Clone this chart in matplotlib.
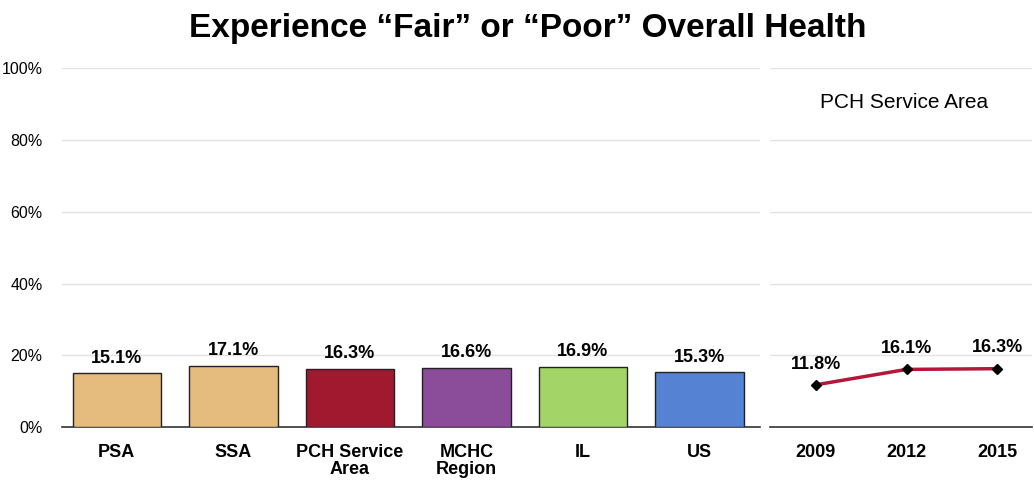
import matplotlib.pyplot as plt
from matplotlib.ticker import PercentFormatter

categories = ["PSA", "SSA", "PCH Service\nArea", "MCHC\nRegion", "IL", "US"]
values = [15.1, 17.1, 16.3, 16.6, 16.9, 15.3]
bar_colors = ["#E5BC7E", "#E5BC7E", "#A0192F", "#8B4C9A", "#A2D468", "#5582D3"]

years = ["2009", "2012", "2015"]
trend = [11.8, 16.1, 16.3]

narrow = ["Liberation Sans Narrow", "Liberation Sans", "DejaVu Sans"]
plt.rcParams['font.family'] = narrow

fig = plt.figure(figsize=(10.34, 4.8), dpi=100)
ax = fig.add_axes([0.060, 0.110, 0.675, 0.748])
ax2 = fig.add_axes([0.745, 0.110, 0.253, 0.748])

x = range(len(categories))
ax.bar(x, values, width=0.76, color=bar_colors, edgecolor="#222222", linewidth=1, zorder=3)
for i, v in zip(x, values):
    ax.text(i, v + 1.8, f"{v:.1f}%", ha='center', va='bottom', fontsize=13, fontweight='bold')
ax.set_xticks(list(x))
ax.set_xticklabels(categories, fontsize=13, fontweight='bold', linespacing=1.0)
ax.set_xlim(-0.47, 5.52)

xs = range(len(years))
ax2.plot(xs, trend, color="#B5173A", linewidth=2.5, marker='D', markersize=5,
         markerfacecolor='black', markeredgecolor='black', zorder=3)
for i, v in zip(xs, trend):
    ax2.text(i, v + 3.4, f"{v:.1f}%", ha='center', va='bottom', fontsize=13, fontweight='bold')
ax2.set_xticks(list(xs))
ax2.set_xticklabels(years, fontsize=13, fontweight='bold')
ax2.set_xlim(-0.5, 2.38)
ax2.text(0.51, 0.905, "PCH Service Area", transform=ax2.transAxes, ha='center', va='center',
         fontsize=15)

for a in (ax, ax2):
    a.set_ylim(0, 100)
    a.set_yticks([0, 20, 40, 60, 80, 100])
    a.grid(axis='y', color="#E3E3E3", linewidth=1, zorder=0)
    a.tick_params(axis='x', length=0, pad=12)
    a.tick_params(axis='y', length=0)
    for s in ['top', 'right', 'left']:
        a.spines[s].set_visible(False)
    a.spines['bottom'].set_color("#333333")
    a.spines['bottom'].set_linewidth(1.2)

ax.yaxis.set_major_formatter(PercentFormatter(decimals=0))
ax.tick_params(axis='y', labelsize=11.5, pad=14)
ax2.set_yticklabels([])

fig.text(0.51, 0.94, "Experience \u201cFair\u201d or \u201cPoor\u201d Overall Health", ha='center', va='center',
         fontsize=24, fontweight='bold', family=["Liberation Sans", "DejaVu Sans"])

fig.savefig("out.png", dpi=100)
